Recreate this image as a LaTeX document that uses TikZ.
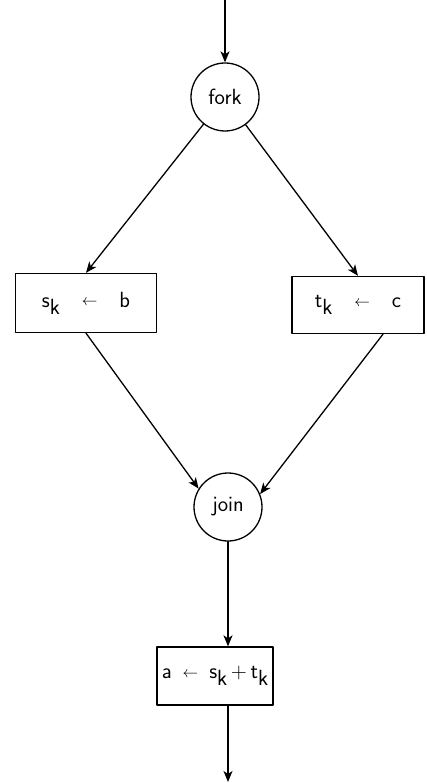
\documentclass[tikz,border=0pt]{standalone}
\usetikzlibrary{arrows.meta}
\newcommand\lowsub[1]{\raisebox{-0.75ex}{#1}}
\newcommand\getsarrow{\raisebox{0.15ex}{\scalebox{0.75}{$\leftarrow$}}}
\begin{document}
\begin{tikzpicture} [x=1pt, y=-1pt, line width=1.3pt, line join=round, line cap=round, >={Stealth[length=11pt,width=9pt,inset=3pt]},
 font=\fontsize{22}{26}\sffamily,
 op/.style={draw, circle, minimum size=68pt, inner sep=0pt},
 assign/.style={draw, rectangle, inner sep=0pt}]
 \useasboundingbox (0,0) rectangle (427,783);
 \coordinate (in) at (225,0);
 \coordinate (out) at (228,782);
 \node[op] (fork) at (225,97) {fork};
 \node[assign, minimum width=141pt, minimum height=59pt] (sk) at (86,303) {s\lowsub{k}\quad\getsarrow\quad b};
 \node[assign, minimum width=132pt, minimum height=57pt] (tk) at (358,305) {t\lowsub{k}\quad\getsarrow\quad c};
 \node[op] (join) at (228,507) {join};
 \node[assign, minimum width=116pt, minimum height=58pt] (sum) at (215,676) {a\enspace\getsarrow\enspace s\lowsub{k}\,+\,t\lowsub{k}};
 % arrows
 \draw[->] (in) -- (fork);
 \draw[->] (fork) -- (sk.north);
 \draw[->] (fork) -- (tk.north);
 \draw[->] (sk.south) -- (join.148);
 \draw[->] ([xshift=25pt]tk.south) -- (join.22);
 \draw[->] (join.south) -- (join.south |- sum.north);
 \draw[->] (join.south |- sum.south) -- (out);
\end{tikzpicture}
\end{document}
